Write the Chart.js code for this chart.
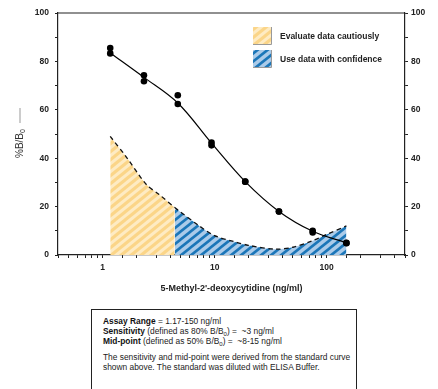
<!DOCTYPE html>
<html>
<head>
<meta charset="utf-8">
<script src="https://cdn.jsdelivr.net/npm/chart.js@4.4.1/dist/chart.umd.min.js"></script>
<style>
  body { margin: 0; background: #fff; }
  #wrap { position: relative; width: 438px; height: 389px; overflow: hidden; }
  #note {
    position: absolute; left: 91px; top: 309px; width: 266px; height: 90px;
    border: 1.3px solid #222; box-sizing: border-box;
    font-family: "Liberation Sans", Arial, sans-serif; font-size: 8.4px; line-height: 10px;
    color: #222; padding: 6px 0 0 11px;
  }
  #note b { color: #111; }
  #note sub { font-size: 6px; line-height: 0; vertical-align: -2px; }
</style>
</head>
<body>
<div id="wrap">
  <canvas id="assay" width="438" height="300"></canvas>
  <div id="note">
    <b>Assay Range</b> = 1.17-150 ng/ml<br>
    <b>Sensitivity</b> (defined as 80% B/B<sub>0</sub>) = &nbsp;~3 ng/ml<br>
    <b>Mid-point</b> (defined as 50% B/B<sub>0</sub>) = &nbsp;~8-15 ng/ml<br>
    <div style="height:6px"></div>
    The sensitivity and mid-point were derived from the standard curve<br>
    shown above. The standard was diluted with ELISA Buffer.
  </div>
</div>
<script>
// standard concentrations (ng/ml) and duplicate readings (%B/B0)
var conc = [1.17, 2.34, 4.69, 9.38, 18.75, 37.5, 75, 150];
var rep1 = [85.5, 74.3, 66, 46.5, 30.3, 18, 10, 5];
var rep2 = [83.3, 71.8, 62.4, 45.3, 30.3, 18, 9.3, 4.9];
// fitted curve
var fitY = [83.5, 73.4, 62.8, 46.2, 30.3, 18, 9.8, 5];
// hatched regions (upper dashed boundary)
var cautionX = [1.17, 1.6, 2.47, 3.2, 4.4];
var cautionY = [49, 41, 29, 25, 19.6];
var confX = [4.4, 7.3, 10, 15, 20, 35, 50, 74, 100, 150];
var confY = [19.6, 12, 8, 5.5, 4, 2.4, 3.2, 5.8, 8.5, 12];
var yTicks = [0, 20, 40, 60, 80, 100];
var xTicks = [1, 10, 100];

function pts(xs, ys) {
  return xs.map(function (x, i) { return {x: x, y: ys[i]}; });
}

function stripes(light, dark, lw) {
  var w = 10, h = 8;
  var c = document.createElement('canvas');
  c.width = w; c.height = h;
  var g = c.getContext('2d');
  g.fillStyle = light;
  g.fillRect(0, 0, w, h);
  g.strokeStyle = dark;
  g.lineWidth = lw;
  [-h, 0, h].forEach(function (off) {
    g.beginPath();
    g.moveTo(-w, h + off + h);
    g.lineTo(2 * w, off - h);
    g.stroke();
  });
  return g.createPattern(c, 'repeat');
}

var yellow = stripes('#feebc3', '#fbd588', 3.2);
var blue = stripes('#abcbe9', '#1b76b8', 2.6);

var font = "'Liberation Sans', Arial, sans-serif";

var extras = {
  id: 'extras',
  afterDraw: function (chart) {
    var ctx = chart.ctx, a = chart.chartArea;
    ctx.save();
    // top frame line
    ctx.strokeStyle = '#222';
    ctx.lineWidth = 1.2;
    ctx.beginPath();
    ctx.moveTo(a.left, a.top);
    ctx.lineTo(a.right, a.top);
    ctx.stroke();

    // legend
    var items = [
      {pat: yellow, y: 27, text: 'Evaluate data cautiously'},
      {pat: blue, y: 50, text: 'Use data with confidence'}
    ];
    items.forEach(function (it) {
      ctx.fillStyle = it.pat;
      ctx.fillRect(253, it.y, 18, 17);
      ctx.strokeStyle = '#999';
      ctx.lineWidth = 1;
      ctx.beginPath();
      ctx.moveTo(253, it.y + 17.5);
      ctx.lineTo(271.5, it.y + 17.5);
      ctx.lineTo(271.5, it.y);
      ctx.stroke();
      ctx.fillStyle = '#222';
      ctx.font = 'bold 8.5px ' + font;
      ctx.textAlign = 'left';
      ctx.textBaseline = 'middle';
      ctx.fillText(it.text, 280, it.y + 10);
    });

    // y title %B/B0 with line marker
    ctx.translate(20, 158);
    ctx.rotate(-Math.PI / 2);
    ctx.fillStyle = '#333';
    ctx.font = '10px ' + font;
    ctx.textAlign = 'left';
    ctx.textBaseline = 'middle';
    ctx.fillText('%B/B', 0, 0);
    var w = ctx.measureText('%B/B').width;
    ctx.font = '7px ' + font;
    ctx.fillText('0', w, 3);
    ctx.strokeStyle = '#999';
    ctx.lineWidth = 1;
    ctx.beginPath();
    ctx.moveTo(35, 0);
    ctx.lineTo(50, 0);
    ctx.stroke();
    ctx.restore();
  }
};

var tickFont = {family: font, size: 8.5, weight: 'bold'};

new Chart(document.getElementById('assay').getContext('2d'), {
  type: 'line',
  data: {
    datasets: [
      {
        data: pts(cautionX, cautionY), fill: 'origin', backgroundColor: yellow,
        borderColor: '#111', borderWidth: 1.3, borderDash: [4.5, 3.5],
        pointRadius: 0, tension: 0.3, order: 3
      },
      {
        data: pts(confX, confY), fill: 'origin', backgroundColor: blue,
        borderColor: '#111', borderWidth: 1.3, borderDash: [4.5, 3.5],
        pointRadius: 0, tension: 0.3, order: 3
      },
      {
        data: pts(conc, fitY), borderColor: '#000', borderWidth: 1.2,
        pointRadius: 0, tension: 0.35, fill: false, order: 2
      },
      {
        data: pts(conc, rep1), showLine: false, pointRadius: 3.3,
        pointBackgroundColor: '#000', pointBorderWidth: 0, order: 1
      },
      {
        data: pts(conc, rep2), showLine: false, pointRadius: 3.3,
        pointBackgroundColor: '#000', pointBorderWidth: 0, order: 1
      }
    ]
  },
  options: {
    responsive: false,
    animation: false,
    layout: {padding: {top: 13, left: 0, right: 0, bottom: 0}},
    plugins: {legend: {display: false}, tooltip: {enabled: false}},
    scales: {
      x: {
        type: 'logarithmic', position: 'bottom', min: 0.4, max: 500,
        afterFit: function (s) { s.height = 45; },
        border: {color: '#222', width: 1.2},
        grid: {drawOnChartArea: false, tickLength: 3, color: '#222', lineWidth: 1},
        ticks: {
          autoSkip: false, maxRotation: 0, padding: 5, color: '#222', font: tickFont,
          callback: function (v) { return xTicks.indexOf(v) >= 0 ? String(v) : ''; }
        },
        title: {
          display: true, text: "5-Methyl-2'-deoxycytidine (ng/ml)", color: '#222',
          font: {family: font, size: 9, weight: 'bold'}, padding: {top: 0, bottom: 6}
        }
      },
      y: {
        position: 'left', min: 0, max: 100,
        afterFit: function (s) { s.width = 58; },
        border: {color: '#222', width: 1.2},
        grid: {drawOnChartArea: false, tickLength: 3, color: '#222', lineWidth: 1},
        ticks: {
          stepSize: 10, padding: 6, color: '#222', font: tickFont,
          callback: function (v) { return yTicks.indexOf(v) >= 0 ? String(v) : ''; }
        }
      },
      y2: {
        position: 'right', min: 0, max: 100,
        afterFit: function (s) { s.width = 33; },
        border: {color: '#222', width: 1.2},
        grid: {drawOnChartArea: false, tickLength: 3, color: '#222', lineWidth: 1},
        ticks: {
          stepSize: 10, padding: 3, color: '#222', font: tickFont,
          callback: function (v) { return yTicks.indexOf(v) >= 0 ? String(v) : ''; }
        }
      }
    }
  },
  plugins: [extras]
});
</script>
</body>
</html>
